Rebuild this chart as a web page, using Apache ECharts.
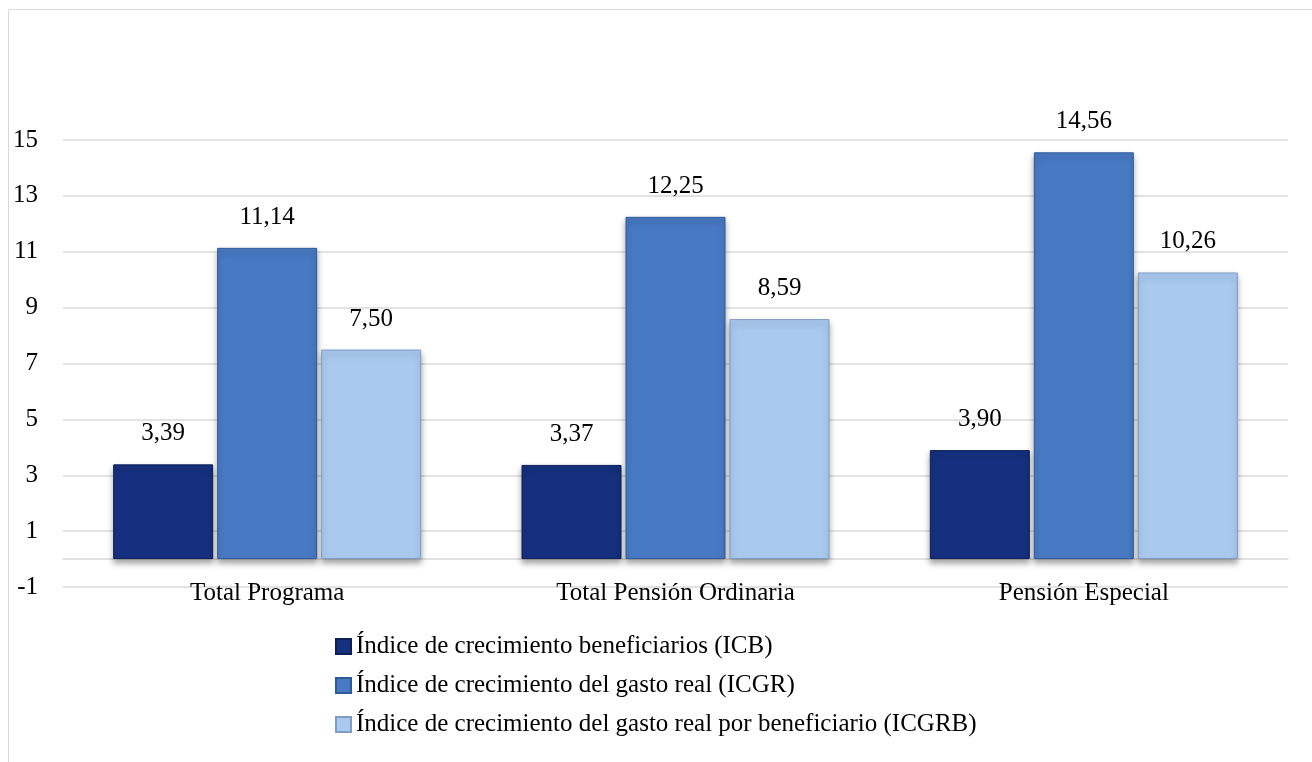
<!DOCTYPE html>
<html>
<head>
<meta charset="utf-8">
<title>Índices de crecimiento</title>
<script src="https://cdn.jsdelivr.net/npm/echarts@6/dist/echarts.min.js"></script>
<style>
  html, body { margin: 0; padding: 0; background: #ffffff; }
  #chartBarBox { width: 1312px; height: 762px; }
</style>
</head>
<body>
<div id="chartBarBox"></div>
<script>
// datos
var categorias = ["Total Programa", "Total Pensión Ordinaria", "Pensión Especial"];
var nombresSeries = [
  "Índice de crecimiento beneficiarios (ICB)",
  "Índice de crecimiento del gasto real (ICGR)",
  "Índice de crecimiento del gasto real por beneficiario (ICGRB)"
];
var icb = [3.39, 3.37, 3.90];
var icgr = [11.14, 12.25, 14.56];
var icgrb = [7.50, 8.59, 10.26];
var colores = ["#15307f", "#4879c3", "#a9c9ef"];
var bordes = ["#0d1f55", "#2f5a9a", "#7f9cc4"];

var fuente = "Palatino Linotype, Book Antiqua, Palatino, Liberation Serif, serif";
var tam = 25;

function serie(nombre, datos, i) {
  return {
    name: nombre,
    type: "bar",
    data: datos,
    barWidth: 100,
    barGap: "4%",
    itemStyle: {
      color: colores[i],
      borderColor: bordes[i],
      borderWidth: 1,
      shadowColor: "rgba(0,0,0,0.35)",
      shadowBlur: 6,
      shadowOffsetY: 4
    },
    label: {
      show: true,
      position: "top",
      distance: 18,
      color: "#000",
      fontFamily: fuente,
      fontSize: tam,
      formatter: function (p) {
        return p.value.toFixed(2).replace(".", ",");
      }
    }
  };
}

var chart = echarts.init(document.getElementById("chartBarBox"));
var option = {
  animation: false,
  backgroundColor: "#ffffff",
  textStyle: { fontFamily: fuente },
  graphic: [{
    type: "rect",
    shape: { x: 8.5, y: 9.5, width: 1400, height: 900 },
    style: { fill: "none", stroke: "#d9d9d9", lineWidth: 1 },
    silent: true
  }],
  grid: { left: 63, right: 24, top: 140, bottom: 175 },
  legend: {
    orient: "vertical",
    left: 335,
    top: 634,
    padding: 0,
    icon: "rect",
    itemWidth: 15,
    itemHeight: 15,
    itemGap: 14,
    data: nombresSeries,
    textStyle: { fontFamily: fuente, fontSize: tam, lineHeight: 25, color: "#000" }
  },
  xAxis: {
    type: "category",
    data: categorias,
    axisLine: { show: true, onZero: true, lineStyle: { color: "#d9d9d9", width: 1.5 } },
    axisTick: { show: false },
    axisLabel: { margin: -6, color: "#000", fontFamily: fuente, fontSize: tam }
  },
  yAxis: {
    type: "value",
    min: -1,
    max: 15,
    interval: 2,
    axisLine: { show: false },
    axisTick: { show: false },
    splitLine: { lineStyle: { color: "#d9d9d9", width: 1.5 } },
    axisLabel: { margin: 25, color: "#000", fontFamily: fuente, fontSize: tam }
  },
  series: [
    serie(nombresSeries[0], icb, 0),
    serie(nombresSeries[1], icgr, 1),
    serie(nombresSeries[2], icgrb, 2)
  ]
};
chart.setOption(option);
</script>
</body>
</html>
